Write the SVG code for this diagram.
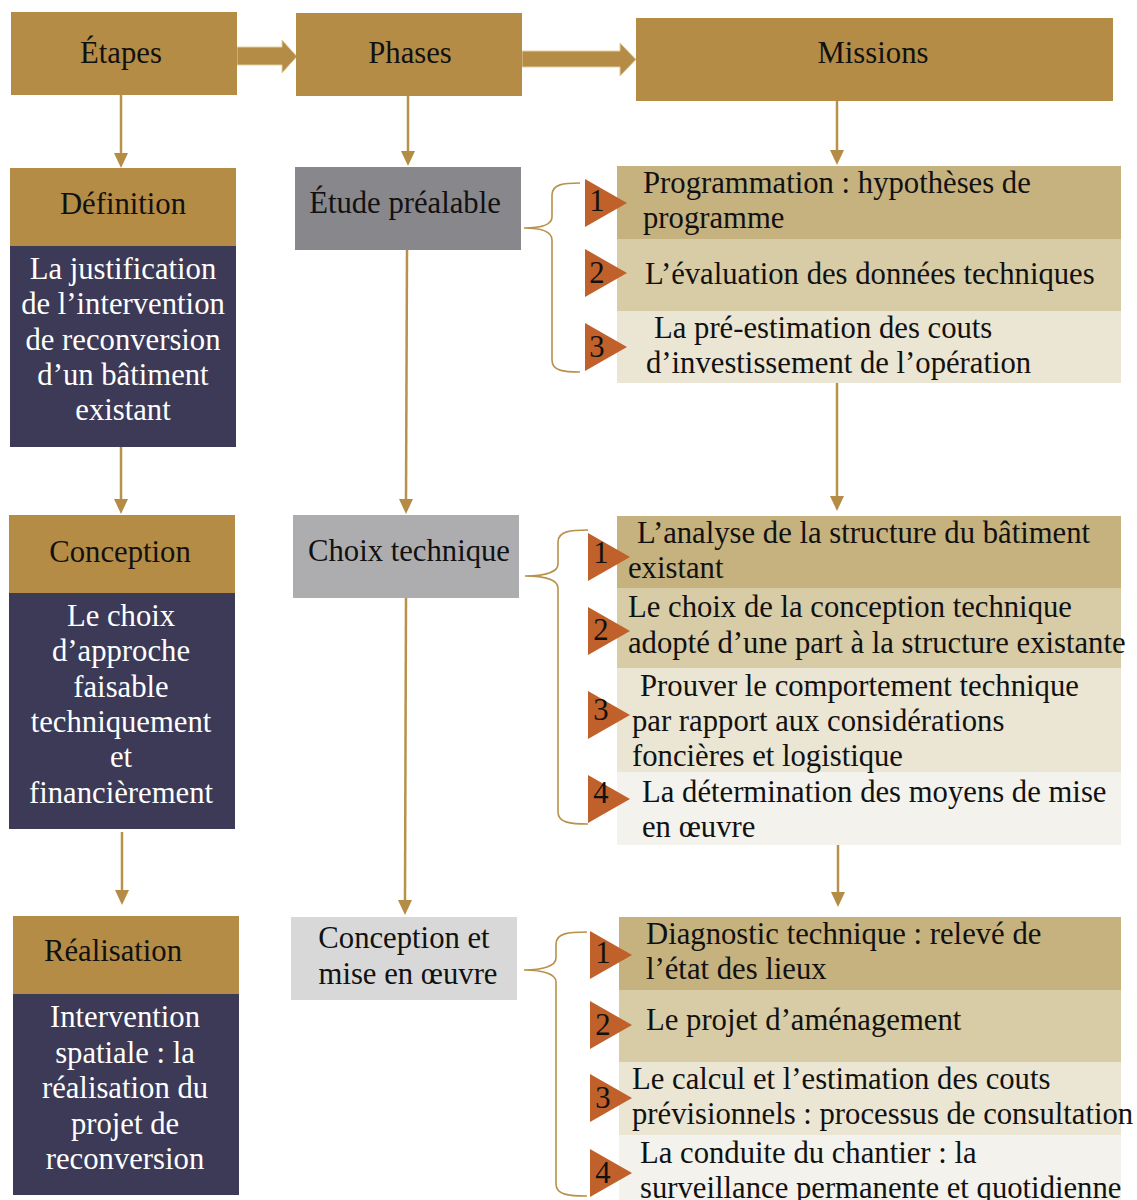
<svg xmlns="http://www.w3.org/2000/svg" width="1137" height="1200" viewBox="0 0 1137 1200">
<defs>
<style>
text{font-family:"Liberation Serif","Times New Roman",serif;font-size:30.7px;fill:#111}
.w{fill:#fff}
.c{text-anchor:middle}
.gold{fill:#b48c46}
.navy{fill:#3c3a56}
.r1{fill:#c5b27e}.r2{fill:#d8cca6}.r3{fill:#ebe5d3}.r4{fill:#f3f2ec}
.tri{fill:#c0602a}
.ln{stroke:#b8914a;stroke-width:2.5;fill:none}
.br{stroke:#b8914a;stroke-width:1.6;fill:none}
.blk{fill:#b48c46;stroke:#e2cf9f;stroke-width:1}
.ah{fill:#b48c46}
</style>
</defs>
<rect width="1137" height="1200" fill="#fff"/>

<g id="connectors">
<path class="blk" d="M237,47 L282,47 L282,40 L297,56.5 L282,73 L282,65 L237,65 Z"/>
<path class="blk" d="M522,51 L620,51 L620,43 L636,59.5 L620,76 L620,67 L522,67 Z"/>
<line class="ln" x1="121" y1="95" x2="121" y2="154"/><path class="ah" d="M114,153 L128,153 L121,168 Z"/>
<line class="ln" x1="408" y1="96" x2="408" y2="152"/><path class="ah" d="M401,151 L415,151 L408,166 Z"/>
<line class="ln" x1="837" y1="101" x2="837" y2="151"/><path class="ah" d="M830,150 L844,150 L837,165 Z"/>
<line class="ln" x1="121" y1="441" x2="121" y2="500"/><path class="ah" d="M114,499 L128,499 L121,514 Z"/>
<line class="ln" x1="407" y1="250" x2="406" y2="500"/><path class="ah" d="M399,499 L413,499 L406,514 Z"/>
<line class="ln" x1="837" y1="383" x2="837" y2="497"/><path class="ah" d="M830,496 L844,496 L837,511 Z"/>
<line class="ln" x1="122" y1="832" x2="122" y2="891"/><path class="ah" d="M115,890 L129,890 L122,905 Z"/>
<line class="ln" x1="406" y1="598" x2="405" y2="901"/><path class="ah" d="M398,900 L412,900 L405,915 Z"/>
<line class="ln" x1="838" y1="835" x2="838" y2="893"/><path class="ah" d="M831,892 L845,892 L838,907 Z"/>
<path class="br" d="M580,183 C564,183 552,184 552,195 L552,217 C552,225 541,228 524,228 C541,228 552,231 552,240 L552,360 C552,371 564,372 580,372"/>
<path class="br" d="M588,530 C571,530 558,531 558,542 L558,564 C558,572 545,576 525,576 C545,576 558,580 558,588 L558,812 C558,823 571,824 588,824"/>
<path class="br" d="M587,932 C569,932 556,933 556,944 L556,958 C556,966 543,970 524,970 C543,970 556,974 556,982 L556,1184 C556,1195 569,1196 587,1196"/>
</g>

<g id="etapes"><rect class="gold" x="11" y="12" width="226" height="83"/><text class="c" x="121" y="63">Étapes</text></g>
<g id="phases"><rect class="gold" x="296" y="13" width="226" height="83"/><text class="c" x="410" y="63">Phases</text></g>
<g id="missions"><rect class="gold" x="636" y="18" width="477" height="83"/><text class="c" x="873" y="63">Missions</text></g>

<g id="definition">
<rect class="gold" x="10" y="168" width="226" height="78"/>
<rect class="navy" x="10" y="246" width="226" height="201"/>
<text class="c" x="123" y="214">Définition</text>
<text class="c w" x="123" y="279">La justification</text>
<text class="c w" x="123" y="314">de l’intervention</text>
<text class="c w" x="123" y="350">de reconversion</text>
<text class="c w" x="123" y="385">d’un bâtiment</text>
<text class="c w" x="123" y="420">existant</text>
</g>
<g id="conception">
<rect class="gold" x="9" y="515" width="226" height="78"/>
<rect class="navy" x="9" y="593" width="226" height="236"/>
<text class="c" x="120" y="562">Conception</text>
<text class="c w" x="121" y="626">Le choix</text>
<text class="c w" x="121" y="661">d’approche</text>
<text class="c w" x="121" y="697">faisable</text>
<text class="c w" x="121" y="732">techniquement</text>
<text class="c w" x="121" y="767">et</text>
<text class="c w" x="121" y="803">financièrement</text>
</g>
<g id="realisation">
<rect class="gold" x="13" y="916" width="226" height="78"/>
<rect class="navy" x="13" y="994" width="226" height="201"/>
<text class="c" x="113" y="961">Réalisation</text>
<text class="c w" x="125" y="1027">Intervention</text>
<text class="c w" x="125" y="1063">spatiale : la</text>
<text class="c w" x="125" y="1098">réalisation du</text>
<text class="c w" x="125" y="1134">projet de</text>
<text class="c w" x="125" y="1169">reconversion</text>
</g>

<g id="etude"><rect x="295" y="167" width="226" height="83" fill="#88878c"/><text class="c" x="405" y="213">Étude préalable</text></g>
<g id="choix"><rect x="293" y="515" width="226" height="83" fill="#adadaf"/><text class="c" x="409" y="561">Choix technique</text></g>
<g id="miseoeuvre"><rect x="291" y="917" width="226" height="83" fill="#d8d8d8"/><text class="c" x="404" y="948">Conception et</text><text class="c" x="408" y="984">mise en œuvre</text></g>

<g id="m1">
<rect class="r1" x="617" y="166" width="504" height="73"/>
<rect class="r2" x="617" y="239" width="504" height="72"/>
<rect class="r3" x="617" y="311" width="504" height="72"/>
<text x="643" y="193">Programmation : hypothèses de</text>
<text x="643" y="228">programme</text>
<text x="645" y="284">L’évaluation des données techniques</text>
<text x="654" y="338">La pré-estimation des couts</text>
<text x="646" y="373">d’investissement de l’opération</text>
<path class="tri" d="M585,179 L627,203 L585,227 Z"/>
<path class="tri" d="M585,249 L627,273 L585,297 Z"/>
<path class="tri" d="M585,323 L627,347 L585,371 Z"/>
<text class="c" x="597" y="211">1</text>
<text class="c" x="597" y="283">2</text>
<text class="c" x="597" y="357">3</text>
</g>

<g id="m2">
<rect class="r1" x="617" y="516" width="504" height="72"/>
<rect class="r2" x="617" y="588" width="504" height="80"/>
<rect class="r3" x="617" y="668" width="504" height="104"/>
<rect class="r4" x="617" y="772" width="504" height="73"/>
<text x="637" y="543">L’analyse de la structure du bâtiment</text>
<text x="628" y="578">existant</text>
<text x="628" y="617">Le choix de la conception technique</text>
<text x="628" y="653">adopté d’une part à la structure existante</text>
<text x="640" y="696">Prouver le comportement technique</text>
<text x="632" y="731">par rapport aux considérations</text>
<text x="632" y="766">foncières et logistique</text>
<text x="642" y="802">La détermination des moyens de mise</text>
<text x="642" y="837">en œuvre</text>
<path class="tri" d="M588,533 L630,557 L588,581 Z"/>
<path class="tri" d="M588,607 L630,631 L588,655 Z"/>
<path class="tri" d="M588,691 L630,715 L588,739 Z"/>
<path class="tri" d="M588,775 L630,799 L588,823 Z"/>
<text class="c" x="601" y="563">1</text>
<text class="c" x="601" y="640">2</text>
<text class="c" x="601" y="720">3</text>
<text class="c" x="601" y="803">4</text>
</g>

<g id="m3">
<rect class="r1" x="619" y="917" width="502" height="73"/>
<rect class="r2" x="619" y="990" width="502" height="72"/>
<rect class="r3" x="619" y="1062" width="502" height="73"/>
<rect class="r4" x="619" y="1135" width="502" height="65"/>
<text x="646" y="944">Diagnostic technique : relevé de</text>
<text x="646" y="979">l’état des lieux</text>
<text x="646" y="1030">Le projet d’aménagement</text>
<text x="632" y="1089">Le calcul et l’estimation des couts</text>
<text x="632" y="1124">prévisionnels : processus de consultation</text>
<text x="640" y="1163">La conduite du chantier : la</text>
<text x="640" y="1198">surveillance permanente et quotidienne</text>
<path class="tri" d="M590,931 L632,955 L590,979 Z"/>
<path class="tri" d="M590,1001 L632,1025 L590,1049 Z"/>
<path class="tri" d="M590,1074 L632,1098 L590,1122 Z"/>
<path class="tri" d="M590,1149 L632,1173 L590,1197 Z"/>
<text class="c" x="603" y="963">1</text>
<text class="c" x="603" y="1035">2</text>
<text class="c" x="603" y="1108">3</text>
<text class="c" x="603" y="1183">4</text>
</g>
</svg>
